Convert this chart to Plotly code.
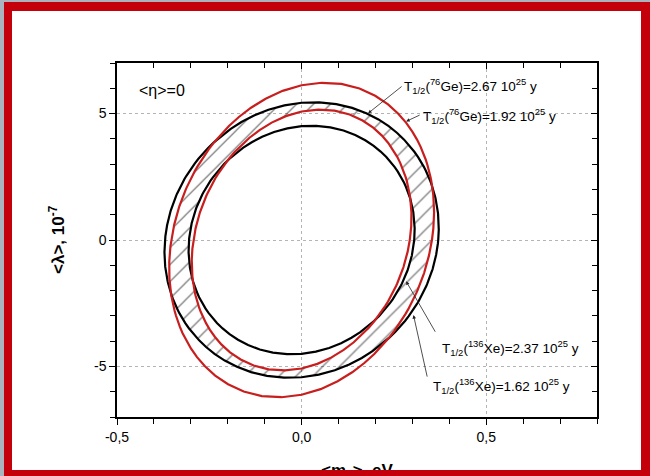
import numpy as np
import plotly.graph_objects as go

# ---- data ----
curve_names = ["Ge 2.67e25 y", "Ge 1.92e25 y", "Xe 2.37e25 y", "Xe 1.62e25 y"]
half_lives = [2.67, 1.92, 2.37, 1.62]
m_at_lam0 = [0.305, 0.370, 0.293, 0.353]      # <m> intercept at <lambda>=0 (eV)
lam_max = [4.52, 5.45, 5.16, 6.22]            # maximum <lambda> (1e-7)
m_at_lam_max = [0.027, 0.033, 0.052, 0.064]   # <m> where <lambda> is maximal
curve_colors = ["black", "black", "#c81e1e", "#c81e1e"]

x_tick_vals = [-0.5, 0.0, 0.5]
x_tick_text = ["-0,5", "0,0", "0,5"]
x_minor_vals = [-0.4, -0.3, -0.2, -0.1, 0.1, 0.2, 0.3, 0.4, 0.6, 0.7, 0.8]
y_tick_vals = [-5, 0, 5]
y_tick_text = ["-5", "0", "5"]
y_minor_vals = [-7, -6, -4, -3, -2, -1, 1, 2, 3, 4, 6, 7]

label_texts = [
    "T<sub>1/2</sub>(<sup>76</sup>Ge)=2.67 10<sup>25</sup> y",
    "T<sub>1/2</sub>(<sup>76</sup>Ge)=1.92 10<sup>25</sup> y",
    "T<sub>1/2</sub>(<sup>136</sup>Xe)=2.37 10<sup>25</sup> y",
    "T<sub>1/2</sub>(<sup>136</sup>Xe)=1.62 10<sup>25</sup> y",
]
label_x = [0.273, 0.324, 0.374, 0.351]
label_y = [6.09, 4.91, -4.28, -5.79]
arrow_head_x = [0.180, 0.283, 0.283, 0.303]
arrow_head_y = [5.01, 4.69, -1.63, -2.97]
arrow_dx = [35, 15, 30, 14]
arrow_dy = [-28, -7, 52, 63]

X_RANGE = [-0.5, 0.8]
Y_RANGE = [-7, 7]

# ---- geometry helpers ----
theta = np.linspace(0, 2 * np.pi, 721)


def radius(i):
    a = 1.0 / m_at_lam0[i] ** 2
    b = -a * m_at_lam_max[i] / lam_max[i]
    c = (a / lam_max[i] ** 2 + b ** 2) / a
    ct, st = np.cos(theta), np.sin(theta)
    return 1.0 / np.sqrt(a * ct ** 2 + 2 * b * ct * st + c * st ** 2)


radii = [radius(i) for i in range(4)]
inner = np.maximum(radii[0], radii[2])
outer = np.minimum(radii[1], radii[3])

fig = go.Figure()

# hatched overlap band
hx = np.concatenate([outer * np.cos(theta), (inner * np.cos(theta))[::-1]])
hy = np.concatenate([outer * np.sin(theta), (inner * np.sin(theta))[::-1]])
fig.add_trace(go.Scatter(
    x=hx, y=hy, mode="lines", fill="toself",
    line=dict(width=0, color="rgba(0,0,0,0)"),
    fillcolor="rgba(255,255,255,0)",
    fillpattern=dict(shape="/", fgcolor="#000000", bgcolor="rgba(0,0,0,0)",
                     size=12, solidity=0.11, fillmode="overlay"),
    hoverinfo="skip", showlegend=False))

for i in range(4):
    fig.add_trace(go.Scatter(
        x=radii[i] * np.cos(theta), y=radii[i] * np.sin(theta),
        mode="lines", line=dict(color=curve_colors[i], width=2.2),
        name=curve_names[i], showlegend=False))

# dummy traces for overlay axes
fig.add_trace(go.Scatter(x=[None], y=[None], xaxis="x2", yaxis="y2", showlegend=False))
fig.add_trace(go.Scatter(x=[None], y=[None], xaxis="x3", yaxis="y", showlegend=False))

font_main = "Liberation Sans, Arial, sans-serif"

annotations = []
for i in range(4):
    annotations.append(dict(
        x=label_x[i], y=label_y[i], xref="x", yref="y", text=label_texts[i],
        showarrow=False, xanchor="left", yanchor="middle",
        font=dict(size=13.5, color="black", family=font_main)))
    annotations.append(dict(
        x=arrow_head_x[i], y=arrow_head_y[i], xref="x", yref="y", text="",
        showarrow=True, ax=arrow_dx[i], ay=arrow_dy[i], arrowhead=2,
        arrowsize=0.9, arrowwidth=0.8, arrowcolor="#222222"))
annotations.append(dict(
    x=-0.445, y=5.93, xref="x", yref="y", text="&lt;η&gt;=0", showarrow=False,
    xanchor="left", yanchor="middle", font=dict(size=16, color="black", family=font_main)))
annotations.append(dict(
    x=-0.125, y=0.5, xref="paper", yref="paper",
    text="<b>&lt;λ&gt;, 10<sup>-7</sup></b>", textangle=-90, showarrow=False,
    xanchor="center", yanchor="middle",
    font=dict(size=17, color="black", family=font_main)))

# frame shapes (pixel -> paper conversion)
L, T, W, H = 117, 63, 480, 354


def px(xp):
    return (xp - L) / W


def py(yp):
    return (T + H - yp) / H


frame_red = "#c4000a"
frame_gray = "#aab4be"
shapes = [dict(type="rect", xref="paper", yref="paper", x0=px(12), x1=px(641), y0=py(470), y1=py(11),
               fillcolor="white", line=dict(width=0), layer="below")]
for (x0, x1, y0, y1, col) in [
    (4, 650, 2, 11, frame_red),      # top band
    (4, 12, 2, 476, frame_red),      # left band
    (641, 650, 2, 476, frame_red),   # right band
    (4, 650, 470, 476, frame_red),   # bottom band
    (0, 4, 0, 476, frame_gray),      # left gray edge
    (0, 650, 0, 2, frame_gray),      # top gray edge
]:
    shapes.append(dict(type="rect", xref="paper", yref="paper", x0=px(x0), x1=px(x1),
                       y0=py(y1), y1=py(y0), fillcolor=col, line=dict(width=0), layer="above"))

axis_common = dict(showline=True, linecolor="black", linewidth=1.5, zeroline=False)
grid_common = dict(showgrid=True, gridcolor="#b4b4b4", griddash="dot", gridwidth=1)

fig.update_layout(
    template="none",
    width=650, height=476,
    margin=dict(l=L, r=650 - L - W, t=T, b=476 - T - H),
    paper_bgcolor="white", plot_bgcolor="white",
    separators=",.",
    showlegend=False,
    font=dict(family=font_main, size=14, color="black"),
    xaxis=dict(range=X_RANGE, tickmode="array", tickvals=x_tick_vals, ticktext=x_tick_text,
               ticks="outside", ticklen=6, tickwidth=1.3, tickcolor="black",
               tickfont=dict(size=14, family=font_main),
               minor=dict(tickmode="array", tickvals=x_minor_vals, ticks="outside",
                          ticklen=5, tickwidth=1.2, tickcolor="black", showgrid=False),
               **grid_common, **axis_common),
    yaxis=dict(range=Y_RANGE, tickmode="array", tickvals=y_tick_vals, ticktext=y_tick_text,
               ticks="outside", ticklen=6, tickwidth=1.3, tickcolor="black",
               tickfont=dict(size=14, family=font_main),
               minor=dict(tickmode="array", tickvals=y_minor_vals, ticks="outside",
                          ticklen=5, tickwidth=1.2, tickcolor="black", showgrid=False),
               **grid_common, **axis_common),
    xaxis2=dict(range=X_RANGE, overlaying="x", side="top", anchor="y2",
                tickmode="array", tickvals=x_tick_vals, showticklabels=False,
                ticks="inside", ticklen=6, tickwidth=1.3, tickcolor="black", showgrid=False,
                minor=dict(tickmode="array", tickvals=x_minor_vals, ticks="inside",
                           ticklen=5, tickwidth=1.2, tickcolor="black", showgrid=False),
                **axis_common),
    yaxis2=dict(range=Y_RANGE, overlaying="y", side="right", anchor="x2",
                tickmode="array", tickvals=y_tick_vals, showticklabels=False,
                ticks="inside", ticklen=6, tickwidth=1.3, tickcolor="black", showgrid=False,
                minor=dict(tickmode="array", tickvals=y_minor_vals, ticks="inside",
                           ticklen=5, tickwidth=1.2, tickcolor="black", showgrid=False),
                **axis_common),
    xaxis3=dict(range=X_RANGE, overlaying="x", side="bottom", anchor="y",
                tickmode="array", tickvals=[(X_RANGE[0] + X_RANGE[1]) / 2],
                ticktext=["<b>&lt;m<sub>ν</sub>&gt;, eV</b>"],
                ticks="outside", ticklen=38, tickcolor="rgba(0,0,0,0)",
                tickfont=dict(size=17, family=font_main, color="black"),
                showline=False, showgrid=False, zeroline=False),
    annotations=annotations,
    shapes=shapes,
)

fig.write_html("out.html")
